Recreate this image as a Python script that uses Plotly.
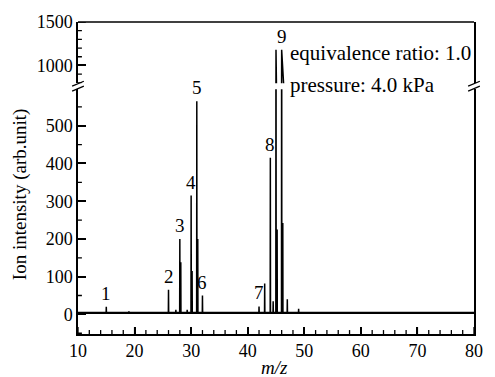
import plotly.graph_objects as go

# ---------------- data ----------------
mz = [15, 19, 26, 27.3, 28, 28.17, 29.3, 30, 30.17, 31, 31.17, 32,
      42, 43, 44, 44.5, 45, 45.2, 46, 46.2, 47, 49, 58, 60]
intensity = [20, 8, 65, 12, 200, 138, 12, 315, 115, 565, 200, 50,
             21, 82, 415, 35, 1180, 225, 1180, 242, 40, 15, 6, 5]
baseline_level = 4
label_text = ["1", "2", "3", "4", "5", "6", "7", "8", "9"]
label_mz = [15, 26, 28, 30, 31, 32, 42, 44, 46]
label_h = [20, 65, 200, 315, 565, 50, 21, 415, 1180]
x_range = [10, 80]
x_major = [10, 20, 30, 40, 50, 60, 70, 80]
x_minor = [v for v in range(12, 80, 2) if v % 10]
y_major = [0, 100, 200, 300, 400, 500]
y_minor = [-50, 50, 150, 250, 350, 450, 550]
y2_major = [1000, 1500]
y2_minor = [800, 900, 1100, 1200, 1300, 1400]

# build spectrum trace
xs = [x_range[0]]
ys = [baseline_level]
for p, h in sorted(zip(mz, intensity)):
    xs += [p - 0.03, p, p + 0.03]
    ys += [baseline_level, h, baseline_level]
xs.append(x_range[1])
ys.append(baseline_level)

FONT = "Liberation Serif"
fig = go.Figure()
line = dict(color="black", width=1.5)
fig.add_trace(go.Scatter(x=x_range, y=[baseline_level, baseline_level], mode="lines",
                         line=dict(color="black", width=2.4), xaxis="x", yaxis="y",
                         hoverinfo="skip", showlegend=False))
fig.add_trace(go.Scatter(x=xs, y=ys, mode="lines", line=line, xaxis="x", yaxis="y",
                         hoverinfo="skip", showlegend=False))
fig.add_trace(go.Scatter(x=xs, y=ys, mode="lines", line=line, xaxis="x", yaxis="y2",
                         hoverinfo="skip", showlegend=False))

W, H = 495, 377
ml, mr, mt, mb = 78, 12, 18, 43
pw, ph = W - ml - mr, H - mt - mb


def py(px):  # pixel y -> paper
    return (H - mb - px) / ph


def pxx(px):
    return (px - ml) / pw


low_top = py(86)
high_bot = py(80)

tickfont = dict(family=FONT, size=18, color="black")
fig.update_layout(
    width=W, height=H, margin=dict(l=ml, r=mr, t=mt, b=mb),
    paper_bgcolor="white", plot_bgcolor="white", showlegend=False,
    xaxis=dict(range=x_range, domain=[0, 1], anchor="y", tickvals=x_major,
               showline=True, linecolor="black", linewidth=1.5, showgrid=False, zeroline=False,
               ticks="inside", ticklen=7, tickcolor="black", tickwidth=1.5, tickfont=tickfont),
    yaxis=dict(domain=[0, low_top], range=[-52, 597], tickvals=y_major, anchor="x", mirror=True,
               showline=True, linecolor="black", linewidth=1.5, showgrid=False, zeroline=False,
               ticks="inside", ticklen=8, tickcolor="black", tickwidth=1.5, tickfont=tickfont),
    yaxis2=dict(domain=[high_bot, 1], range=[795, 1500], tickvals=y2_major, anchor="x", mirror=True,
                showline=True, linecolor="black", linewidth=1.5, showgrid=False, zeroline=False,
                ticks="inside", ticklen=8, tickcolor="black", tickwidth=1.5, tickfont=tickfont),
)

tick_line = dict(color="black", width=1.3)
shapes = [dict(type="line", xref="paper", yref="paper", x0=0, x1=1, y0=1, y1=1,
               line=dict(color="black", width=1.5))]
# explicit inside tick marks drawn through the axes' own scales
for v in x_major:
    shapes.append(dict(type="line", xref="x", yref="paper", x0=v, x1=v, y0=0, y1=7 / ph, line=tick_line))
for v in x_minor:
    shapes.append(dict(type="line", xref="x", yref="paper", x0=v, x1=v, y0=0, y1=4 / ph, line=tick_line))
for ref, majors, minors in (("y", y_major, y_minor), ("y2", y2_major, y2_minor)):
    for v in majors:
        shapes.append(dict(type="line", xref="paper", yref=ref, x0=0, x1=8 / pw, y0=v, y1=v, line=tick_line))
    for v in minors:
        shapes.append(dict(type="line", xref="paper", yref=ref, x0=0, x1=4 / pw, y0=v, y1=v, line=tick_line))
# axis-break marks
for cx in (0, 1):
    for cy in (80.5, 85.5):
        shapes.append(dict(type="line", xref="paper", yref="paper",
                           x0=cx - 6 / pw, x1=cx + 6 / pw,
                           y0=py(cy) - 2.5 / ph, y1=py(cy) + 2.5 / ph,
                           line=dict(color="black", width=1.2)))
fig.update_layout(shapes=shapes)

ann = []
for t, m, h in zip(label_text, label_mz, label_h):
    ann.append(dict(x=m, y=h, xref="x", yref="y2" if h > 600 else "y", text=t,
                    showarrow=False, yanchor="bottom", yshift=1,
                    font=dict(family=FONT, size=19, color="black")))
ann.append(dict(x=pxx(293), y=py(49), xref="paper", yref="paper", xanchor="left",
                yanchor="middle", text="equivalence ratio: 1.0", showarrow=False,
                font=dict(family=FONT, size=21, color="black")))
ann.append(dict(x=pxx(293), y=py(82), xref="paper", yref="paper", xanchor="left",
                yanchor="middle", text="pressure: 4.0 kPa", showarrow=False,
                font=dict(family=FONT, size=21, color="black")))
ann.append(dict(x=pxx(18), y=py(192), xref="paper", yref="paper", xanchor="center",
                yanchor="middle", textangle=-90, text="Ion intensity (arb.unit)",
                showarrow=False, font=dict(family=FONT, size=19, color="black")))
ann.append(dict(x=pxx(279), y=py(368), xref="paper", yref="paper", xanchor="center",
                yanchor="middle", text="<i>m/z</i>", showarrow=False,
                font=dict(family=FONT, size=19, color="black")))
fig.update_layout(annotations=ann)

fig.write_html("out.html")
